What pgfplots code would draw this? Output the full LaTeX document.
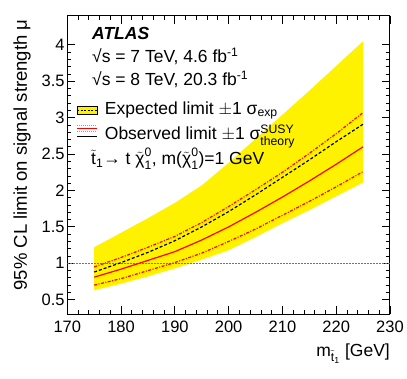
\documentclass[border=0pt]{standalone}
\usepackage{fontspec}
\setmainfont{Liberation Sans}
\usepackage{amsmath}
\usepackage{pgfplots}
\pgfplotsset{compat=1.18}
\usepackage{pgfplotstable}
\usepgfplotslibrary{fillbetween}

% stop mass, yellow band (lo/hi), expected, observed, theory +/- 1 sigma
\pgfplotstableread{
m   lo   hi   exp  obs  thup thdn
175 0.63 1.22 0.88 0.81 0.95 0.70
180 0.72 1.42 1.01 0.92 1.08 0.79
185 0.82 1.62 1.15 1.04 1.22 0.90
190 0.93 1.83 1.31 1.16 1.37 1.01
195 1.05 2.07 1.50 1.32 1.56 1.14
200 1.18 2.38 1.71 1.50 1.78 1.30
205 1.36 2.71 1.94 1.70 2.01 1.47
210 1.55 3.04 2.18 1.91 2.25 1.66
215 1.73 3.37 2.42 2.13 2.51 1.85
220 1.92 3.71 2.67 2.36 2.78 2.05
225 2.11 4.05 2.91 2.60 3.07 2.26
}\limits

\newcommand{\txt}{\fontsize{17.5}{20}\selectfont}
\newcommand{\tx}[1]{\text{#1}}
\newcommand{\chiz}{$\tilde{\tx{χ}}^{\tx{0}}_{\tx{1}}$}

\begin{document}
\begin{tikzpicture}
\begin{axis}[
  scale only axis, width=322.7pt, height=298.6pt,
  xmin=170, xmax=230, ymin=0.3, ymax=4.4,
  xtick={170,180,...,230}, ytick={0.5,1,...,4},
  minor x tick num=4, minor y tick num=4,
  major tick length=8pt, minor tick length=4pt,
  tick align=inside, tick style={black, line width=0.8pt},
  axis line style={line width=1pt},
  ticklabel style={font=\fontsize{16.5}{19}\selectfont},
  /pgf/number format/assume math mode=true,
  xticklabel style={inner sep=0pt, yshift=-6.4pt},
  yticklabel style={inner sep=0pt, xshift=-2.5pt},
  legend style={at={(rel axis cs:0.0291,0.711)}, anchor=north west,
    draw=none, fill=none, inner sep=0pt, row sep=8.6pt, column sep=7pt,
    nodes={inner sep=0pt, text height=12pt, text depth=5pt, font=\txt}},
  legend cell align=left,
]
\addplot[draw=none, name path=hi, forget plot] table[x=m, y=hi] {\limits};
\addplot[draw=none, name path=lo, forget plot] table[x=m, y=lo] {\limits};
\addplot[fill=yellow, draw=none, forget plot] fill between[of=hi and lo];
\addplot[black!55, dash pattern=on 1.5pt off 1.5pt, line width=1.3pt, forget plot] coordinates {(170,1) (230,1)};
\addplot[red, dash pattern=on 3pt off 1.5pt on 1pt off 1.5pt, line width=1.2pt, forget plot] table[x=m, y=thup] {\limits};
\addplot[red, dash pattern=on 3pt off 1.5pt on 1pt off 1.5pt, line width=1.2pt, forget plot] table[x=m, y=thdn] {\limits};
\addplot[black, dash pattern=on 3pt off 2pt, line width=1.2pt, forget plot] table[x=m, y=exp] {\limits};
\addplot[red, line width=1.2pt, forget plot] table[x=m, y=obs] {\limits};

\addlegendimage{legend image code/.code={
  \draw[black, fill=yellow, line width=0.8pt] (0pt,-4.2pt) rectangle (20pt,4.2pt);
  \draw[black, dash pattern=on 2pt off 1.5pt, line width=1pt] (0pt,0pt) -- (20pt,0pt);}}
\addlegendentry{Expected limit $\pm$1 $\tx{σ}_{\tx{exp}}$}
\addlegendimage{legend image code/.code={
  \path (0pt,0pt) -- (20pt,0pt);
  \draw[overlay, red, line width=0.9pt] (0pt,7.8pt) -- (20pt,7.8pt);
  \draw[overlay, red!55, dash pattern=on 1pt off 1pt, line width=0.8pt] (0pt,10.5pt) -- (20pt,10.5pt);
  \draw[overlay, red!55, dash pattern=on 1pt off 1pt, line width=0.8pt] (0pt,5.1pt) -- (20pt,5.1pt);}}
\addlegendentry{Observed limit $\pm$1 $\tx{σ}^{\tx{SUSY}}_{\tx{theory}}$}
\end{axis}

\coordinate (TL) at ([shift={(-67.3pt,15.7pt)}]current axis.north west);
\begin{scope}[shift={(TL)}, x=1pt, y=-1pt]
  \node[anchor=base west, inner sep=0pt, font=\fontsize{17.5}{20}\selectfont\bfseries\itshape] at (92,39.5) {ATLAS};
  \node[anchor=base west, inner sep=0pt, font=\txt] at (92,63) {√s = 7 TeV, 4.6 fb$^{\tx{-1}}$};
  \node[anchor=base west, inner sep=0pt, font=\txt] at (92,85.5) {√s = 8 TeV, 20.3 fb$^{\tx{-1}}$};
  \node[anchor=base west, inner sep=0pt, font=\txt] at (91,165) {$\tilde{\tx{t}}_{\tx{1}}$→ t \chiz, m(\chiz)=1 GeV};
  \node[anchor=base east, inner sep=0pt, font=\txt] at (390,356.7) {m$_{\tilde{\tx{t}}_{\tx{1}}}$ [GeV]};
  \node[rotate=90, anchor=north east, inner sep=0pt, font=\fontsize{18.5}{21}\selectfont] at (13.3,19.3) {95\% CL limit on signal strength μ};
\end{scope}
\pgfresetboundingbox
\path ([shift={(-67.3pt,15.7pt)}]current axis.north west) rectangle ([shift={(17pt,-64.7pt)}]current axis.south east);
\end{tikzpicture}
\end{document}
